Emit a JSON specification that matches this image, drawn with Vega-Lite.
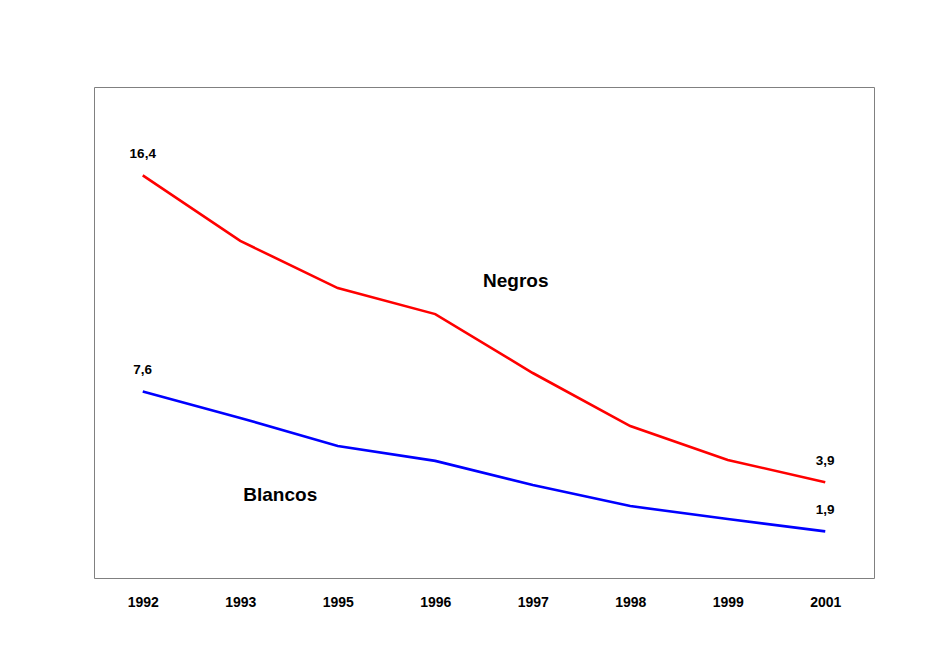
{
  "$schema": "https://vega.github.io/schema/vega-lite/v6.json",
  "width": 780,
  "height": 491,
  "autosize": {"type": "none"},
  "padding": {"left": 94, "top": 87, "right": 65, "bottom": 72},
  "background": "white",
  "config": {
    "view": {"stroke": "#808080", "strokeWidth": 1},
    "font": "Liberation Sans"
  },
  "data": {
    "values": [
      {"year": "1992", "grupo": "Negros", "valor": 16.4, "label": "16,4"},
      {"year": "1993", "grupo": "Negros", "valor": 13.73},
      {"year": "1995", "grupo": "Negros", "valor": 11.81},
      {"year": "1996", "grupo": "Negros", "valor": 10.75},
      {"year": "1997", "grupo": "Negros", "valor": 8.35},
      {"year": "1998", "grupo": "Negros", "valor": 6.19},
      {"year": "1999", "grupo": "Negros", "valor": 4.81},
      {"year": "2001", "grupo": "Negros", "valor": 3.9, "label": "3,9"},
      {"year": "1992", "grupo": "Blancos", "valor": 7.6, "label": "7,6"},
      {"year": "1993", "grupo": "Blancos", "valor": 6.52},
      {"year": "1995", "grupo": "Blancos", "valor": 5.38},
      {"year": "1996", "grupo": "Blancos", "valor": 4.77},
      {"year": "1997", "grupo": "Blancos", "valor": 3.79},
      {"year": "1998", "grupo": "Blancos", "valor": 2.93},
      {"year": "1999", "grupo": "Blancos", "valor": 2.4},
      {"year": "2001", "grupo": "Blancos", "valor": 1.9, "label": "1,9"}
    ]
  },
  "encoding": {
    "x": {
      "field": "year",
      "type": "ordinal",
      "sort": null,
      "scale": {"type": "point", "padding": 0.5},
      "axis": {
        "title": null,
        "labelAngle": 0,
        "ticks": false,
        "domain": false,
        "labelFont": "Liberation Sans",
        "labelFontWeight": "bold",
        "labelFontSize": 14,
        "labelColor": "black",
        "labelPadding": 17
      }
    },
    "y": {
      "field": "valor",
      "type": "quantitative",
      "scale": {"domain": [0, 20], "nice": false},
      "axis": null
    }
  },
  "layer": [
    {
      "mark": {"type": "line", "strokeWidth": 2.6},
      "encoding": {
        "color": {
          "field": "grupo",
          "type": "nominal",
          "scale": {"domain": ["Negros", "Blancos"], "range": ["#ff0000", "#0000ff"]},
          "legend": null
        }
      }
    },
    {
      "transform": [{"filter": "isValid(datum.label)"}],
      "mark": {"type": "text", "dy": -21, "fontWeight": "bold", "fontSize": 13.5, "color": "black", "font": "Liberation Sans"},
      "encoding": {"text": {"field": "label"}}
    },
    {
      "data": {"values": [
        {"year": "1997", "valor": 12.1, "nombre": "Negros"}
      ]},
      "mark": {"type": "text", "dx": -17, "fontWeight": "bold", "fontSize": 19, "color": "black", "font": "Liberation Sans"},
      "encoding": {"text": {"field": "nombre"}}
    },
    {
      "data": {"values": [
        {"year": "1993", "valor": 3.38, "nombre": "Blancos"}
      ]},
      "mark": {"type": "text", "dx": 40, "fontWeight": "bold", "fontSize": 19, "color": "black", "font": "Liberation Sans"},
      "encoding": {"text": {"field": "nombre"}}
    }
  ]
}
